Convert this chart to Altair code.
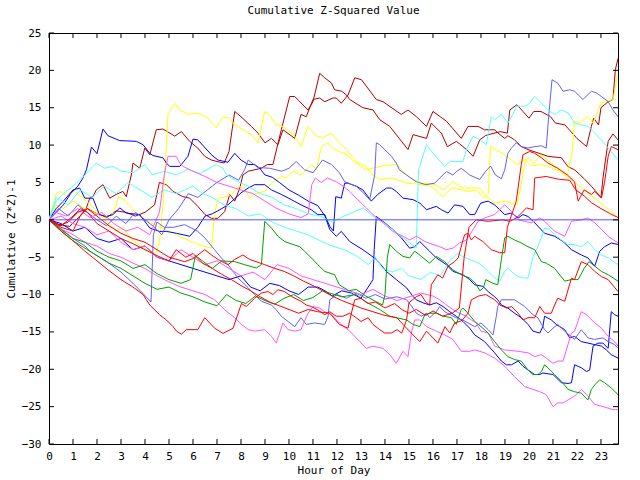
import altair as alt
import pandas as pd

# ---------------- data (hour, cumulative value) ----------------
dark_red_a = [(0,0),(0.4,-0.6),(0.86,-0.9),(1.0,-0.4),(1.28,0.45),(1.56,1.6),(1.7,2.9),(1.83,3.1),(1.97,4.0),(2.25,4.7),(2.39,3.8),(2.53,2.9),(2.8,3.4),(3.08,3.8),(3.22,3.1),(3.43,6.0),(3.5,7.6),(3.78,6.9),(3.99,9.6),(4.2,8.7),(4.47,12.05),(4.75,12.15),(5.24,11.2),(5.52,11.8),(5.86,10.5),(6.2,9.6),(6.49,8.5),(6.77,8.0),(7.0,7.8),(7.3,7.6),(7.5,9.15),(7.74,14.5),(8.0,13.8),(8.43,12.5),(8.71,11.6),(9.0,10.3),(9.27,10.9),(9.54,10.05),(9.75,12.05),(10.24,10.9),(10.5,14.1),(10.72,13.8),(11.0,16.1),(11.28,16.3),(11.49,15.8),(11.83,16.3),(11.97,16.3),(12.18,15.6),(12.46,16.7),(12.74,19.0),(13.02,18.75),(13.64,16.1),(13.92,15.8),(14.68,14.1),(14.96,14.7),(15.31,13.8),(15.73,12.5),(16.0,14.5),(16.56,13.2),(17.18,10.9),(17.46,12.5),(17.88,12.5),(18.15,12.05),(18.57,12.05),(18.71,11.6),(18.99,10.9),(19.12,11.25),(19.4,10.7),(19.68,9.8),(19.96,9.4),(20.79,8.5),(21.35,8.3),(21.63,7.1),(21.9,6.7),(22.3,5.5),(22.6,4.5),(23.0,3.0),(23.1,6.0),(23.3,10.5),(23.5,11.5),(23.71,10.7)]
dark_red_b = [(0,0),(0.4,-0.8),(0.8,-0.3),(1.2,1.0),(1.6,1.5),(2.0,0.8),(2.4,0.3),(2.8,1.2),(3.2,1.0),(3.6,0.5),(4.0,1.0),(4.4,2.0),(4.6,5.0),(4.89,4.7),(5.17,3.8),(5.58,3.1),(5.86,2.9),(6.2,1.8),(6.5,0.7),(6.77,0.2),(7.04,0.2),(7.32,1.1),(7.53,3.4),(7.74,2.5),(7.95,4.25),(8.08,6.0),(8.3,6.5),(8.85,6.9),(9.1,7.4),(9.33,7.4),(9.68,12.05),(10.03,16.5),(10.24,16.5),(10.79,14.7),(11.0,15.8),(11.28,19.6),(11.49,19.0),(11.77,18.3),(11.9,17.4),(12.2,17.2),(12.4,16.7),(12.53,16.1),(13.08,15.0),(13.5,14.7),(13.78,13.4),(14.2,12.5),(14.96,9.4),(15.17,11.4),(15.73,10.9),(15.93,12.95),(16.35,11.6),(16.6,9.8),(16.98,10.5),(17.4,9.4),(17.67,8.5),(17.95,10.7),(18.2,11.3),(18.8,11.8),(19.1,11.6),(19.2,14.7),(19.5,15.4),(19.75,14.5),(20.0,13.6),(20.2,14.5),(20.5,14.5),(20.9,13.8),(21.1,12.95),(21.5,12.7),(22.0,10.9),(22.4,9.8),(22.6,12.5),(22.7,13.6),(22.9,12.7),(23.0,15.0),(23.3,15.8),(23.5,16.1),(23.6,20.1),(23.71,21.6)]
yellow_a = [(0,0),(0.3,3.5),(0.45,3.8),(0.7,3.3),(1.0,4.0),(1.3,3.2),(1.56,2.5),(1.9,1.5),(2.25,0.2),(2.5,-0.5),(2.8,-1.5),(3.1,-1.0),(3.4,-2.5),(3.8,-3.5),(4.2,-4.2),(4.45,-4.5),(4.6,-3.0),(4.75,2.0),(4.96,14.1),(5.24,15.6),(5.45,14.7),(5.79,14.1),(6.2,14.3),(6.63,13.6),(6.97,12.3),(7.25,13.75),(7.53,13.6),(7.74,12.7),(8.43,11.4),(8.71,10.3),(8.99,14.5),(9.2,14.0),(9.47,12.7),(9.75,12.5),(10.24,11.2),(10.5,9.8),(10.79,12.5),(11.14,11.2),(11.4,11.0),(11.77,11.6),(12.1,10.3),(12.4,9.4),(12.8,7.8),(13.2,7.15),(13.5,6.0),(13.78,5.4),(14.3,5.6),(14.9,4.9),(15.3,4.8),(15.9,4.5),(16.4,3.1),(16.8,4.25),(17.2,4.0),(17.5,3.8),(17.8,4.0),(18.15,2.9),(18.3,3.4),(18.4,9.8),(19.0,8.7),(19.5,7.4),(19.96,8.3),(20.2,7.6),(20.5,8.7),(21.0,7.4),(21.5,6.0),(22.0,4.8),(22.5,3.5),(23.0,2.2),(23.4,1.2),(23.71,0.3)]
yellow_b = [(0,0),(0.3,2.0),(0.6,1.5),(1.0,2.5),(1.5,1.5),(2.0,0.8),(2.5,0.0),(2.75,1.5),(2.9,3.1),(3.2,2.5),(3.6,1.0),(4.0,0.0),(4.5,-0.8),(5.0,-1.5),(5.5,-2.3),(6.0,-3.0),(6.4,-3.5),(6.77,-3.8),(6.9,0.7),(7.04,2.9),(7.3,3.0),(7.6,3.4),(7.9,4.5),(8.15,4.25),(8.36,2.9),(8.6,3.5),(8.99,3.8),(9.27,4.9),(9.68,5.8),(9.9,5.6),(10.17,6.5),(10.5,6.0),(10.93,7.4),(11.14,6.7),(11.35,9.8),(11.6,10.3),(11.9,9.4),(12.1,9.15),(12.4,8.7),(12.8,7.6),(13.2,6.7),(13.6,7.0),(14.0,7.3),(14.5,7.4),(15.03,5.6),(15.58,4.9),(16.14,4.7),(16.42,4.0),(16.83,5.1),(17.25,4.25),(17.95,4.25),(18.2,3.2),(18.6,2.2),(19.0,2.5),(19.5,2.0),(19.7,5.1),(19.85,8.0),(20.1,7.2),(20.5,7.4),(20.9,7.0),(21.3,6.5),(21.6,6.0),(21.8,9.0),(21.9,13.2),(22.1,13.0),(22.46,13.8),(22.67,12.95),(23.0,15.6),(23.2,15.8),(23.5,16.1),(23.71,19.5)]
blue_a = [(0,0),(0.3,1.0),(0.6,2.0),(0.9,3.5),(1.2,4.5),(1.4,5.5),(1.56,6.7),(1.77,9.74),(2.0,8.85),(2.25,12.15),(2.46,11.25),(2.95,10.6),(3.64,10.5),(3.92,10.05),(4.2,8.9),(4.33,8.6),(4.75,8.3),(4.89,7.6),(5.03,7.15),(5.45,7.15),(5.79,8.5),(6.0,10.8),(6.2,10.7),(6.77,8.7),(7.04,8.0),(7.46,7.7),(7.74,8.9),(8.0,8.0),(8.3,7.4),(8.57,7.4),(8.78,6.9),(9.0,6.0),(9.3,5.7),(9.6,5.0),(10.0,4.0),(10.4,3.3),(10.8,2.5),(11.2,1.9),(11.5,0.5),(11.7,-1.3),(11.97,-2.2),(12.18,-1.55),(12.53,-2.9),(13.08,-4.0),(13.64,-5.3),(14.06,-6.9),(14.47,-8.0),(14.9,-9.1),(15.17,-10.25),(15.3,-10.7),(15.58,-11.1),(15.86,-11.4),(16.14,-11.1),(16.42,-11.6),(16.7,-12.3),(16.97,-12.9),(17.25,-13.6),(17.53,-14.5),(17.74,-15.4),(18.15,-16.3),(18.57,-17.8),(18.85,-18.9),(19.06,-19.4),(19.27,-19.4),(19.55,-18.9),(19.75,-19.6),(19.96,-20.1),(20.24,-20.7),(20.45,-20.7),(20.58,-20.5),(21.0,-20.7),(21.35,-21.8),(21.63,-21.9),(21.77,-21.8),(21.9,-19.4),(22.18,-19.8),(22.4,-20.3),(22.53,-20.1),(22.67,-16.9),(22.87,-16.5),(23.08,-16.5),(23.3,-17.2),(23.43,-12.3),(23.57,-12.7),(23.71,-12.9)]
blue_b = [(0,0),(0.5,-0.5),(1.0,-1.5),(1.5,-1.0),(2.0,-2.5),(2.5,-3.0),(3.0,-2.5),(3.5,-4.0),(4.0,-3.5),(4.5,-5.0),(5.0,-5.5),(5.5,-6.0),(6.0,-6.5),(6.5,-7.0),(7.0,-7.5),(7.5,-8.0),(8.0,-7.5),(8.4,-9.0),(8.8,-9.5),(9.2,-8.5),(9.6,-8.8),(10.0,-9.5),(10.4,-10.0),(10.8,-9.0),(11.2,-9.0),(11.5,-9.5),(11.8,-10.2),(12.2,-9.5),(12.6,-9.8),(13.0,-10.5),(13.3,-9.0),(13.5,-8.0),(13.55,-4.0),(13.64,0.45),(13.99,-0.4),(14.33,-1.3),(14.68,-2.4),(15.03,-3.8),(15.24,-3.6),(15.45,-2.9),(15.86,-4.2),(16.14,-5.1),(16.56,-6.0),(16.83,-6.9),(17.25,-7.35),(17.53,-8.0),(17.74,-8.7),(18.08,-8.9),(18.3,-9.6),(18.57,-10.3),(18.7,-10.7),(18.85,-11.4),(19.12,-11.8),(19.4,-12.5),(19.68,-13.1),(19.96,-14.0),(20.17,-14.9),(20.45,-15.15),(20.58,-14.3),(20.65,-12.9),(20.93,-13.4),(21.14,-14.0),(21.28,-14.3),(21.49,-14.7),(21.7,-15.8),(21.9,-15.6),(22.18,-16.3),(22.46,-16.5),(22.74,-16.7),(23.02,-16.9),(23.22,-17.4),(23.43,-18.05),(23.71,-18.5)]
blue_c = [(0,0),(0.3,1.5),(0.6,2.5),(1.0,4.0),(1.28,4.25),(1.49,2.9),(1.83,2.9),(2.1,0.7),(2.39,0.45),(2.67,0.7),(2.95,1.6),(3.22,0.9),(3.78,0.7),(4.2,-1.1),(4.61,-1.55),(4.89,-1.55),(5.31,-1.8),(5.86,-2.2),(6.2,-1.0),(6.5,0.5),(6.8,0.8),(7.2,1.5),(7.46,2.0),(8.0,3.6),(8.3,4.25),(8.57,4.7),(8.99,4.7),(9.27,4.0),(9.68,3.4),(10.1,2.7),(10.5,2.0),(10.93,1.35),(11.2,0.7),(11.49,0.7),(11.7,-0.9),(11.85,-1.5),(11.95,3.1),(12.18,2.9),(12.32,4.9),(12.46,4.9),(12.8,4.5),(13.08,4.0),(13.43,2.5),(13.7,3.4),(14.06,4.25),(14.27,4.25),(14.47,3.8),(14.75,2.9),(15.17,2.7),(15.45,2.25),(15.73,1.35),(16.14,1.8),(16.35,1.35),(16.63,0.9),(16.9,2.0),(17.25,1.8),(17.53,0.7),(17.74,0.7),(17.95,2.0),(18.0,2.25),(18.3,2.5),(18.57,2.0),(18.78,1.35),(18.99,0.7),(19.27,0.9),(19.55,0.25),(19.75,0.7),(19.96,0.45),(20.24,-0.4),(20.65,-1.8),(21.07,-2.2),(21.42,-2.9),(21.77,-4.0),(22.18,-4.7),(22.46,-5.1),(22.74,-6.2),(22.95,-4.2),(23.15,-3.6),(23.43,-3.1),(23.71,-3.3)]
light_blue_a = [(0,0),(0.4,1.5),(0.8,0.5),(1.2,2.0),(1.6,1.0),(2.0,0.0),(2.4,-0.8),(2.8,0.5),(3.2,-0.5),(3.6,1.0),(4.0,0.0),(4.4,-1.0),(4.7,-2.0),(5.0,0.0),(5.4,1.5),(5.8,3.5),(6.2,3.0),(6.6,4.0),(7.0,5.0),(7.5,6.0),(7.9,5.3),(8.15,6.7),(8.3,8.0),(8.7,7.0),(9.2,6.9),(9.7,6.5),(10.0,6.9),(10.3,7.8),(10.65,6.7),(11.0,6.3),(11.4,8.0),(11.77,7.4),(12.1,6.3),(12.32,5.1),(12.8,4.5),(13.1,3.6),(13.36,2.7),(13.57,6.0),(13.64,10.3),(13.78,10.05),(13.99,9.4),(14.27,8.5),(14.47,7.6),(14.6,6.7),(14.9,6.0),(15.3,5.1),(15.7,4.7),(16.07,4.9),(16.28,5.6),(16.56,6.45),(16.83,6.0),(16.97,6.45),(17.18,6.9),(17.53,6.0),(17.8,5.6),(17.95,5.4),(18.2,6.5),(18.4,7.2),(18.6,6.0),(18.85,5.5),(18.99,6.7),(19.12,8.9),(19.27,9.6),(19.47,10.3),(19.68,9.8),(19.96,9.6),(20.24,9.8),(20.52,9.9),(20.72,9.6),(20.82,13.8),(20.96,18.75),(21.2,18.3),(21.42,17.2),(21.7,17.4),(21.9,17.2),(22.25,16.1),(22.6,17.2),(22.8,17.0),(23.02,16.5),(23.3,15.8),(23.5,14.7),(23.71,13.8)]
light_blue_b = [(0,0),(0.5,-1.2),(1.0,-2.5),(1.5,-3.5),(1.7,-4.2),(2.0,-4.8),(2.5,-5.8),(3.0,-7.0),(3.5,-8.5),(3.9,-9.8),(4.25,-11.0),(4.35,-2.0),(4.5,-0.3),(4.8,-1.0),(5.2,-1.0),(5.65,-0.65),(5.93,-1.1),(6.2,-1.55),(6.49,-2.4),(6.9,-4.0),(7.18,-5.1),(7.46,-6.0),(7.88,-7.8),(8.3,-9.1),(8.57,-10.0),(8.85,-10.9),(9.27,-11.4),(9.47,-12.05),(9.68,-12.9),(9.96,-13.6),(10.24,-14.3),(10.5,-13.1),(10.72,-14.0),(11.07,-13.8),(11.49,-14.0),(11.63,-12.9),(11.7,-10.7),(12.0,-10.0),(12.4,-10.5),(12.8,-9.8),(13.2,-10.5),(13.6,-10.0),(14.0,-10.6),(14.5,-10.3),(14.9,-10.7),(15.1,-11.5),(15.31,-12.5),(15.52,-12.9),(15.73,-12.5),(15.86,-13.1),(16.14,-12.3),(16.28,-11.6),(16.49,-12.3),(16.9,-13.0),(17.3,-13.5),(17.74,-14.3),(18.0,-13.8),(18.3,-14.7),(18.5,-15.4),(18.64,-12.9),(18.7,-11.6),(18.85,-10.7),(19.4,-10.7),(19.82,-11.6),(20.17,-12.7),(20.37,-13.1),(20.65,-14.7),(20.79,-15.15),(21.0,-14.5),(21.2,-14.0),(21.49,-14.9),(21.9,-16.0),(22.18,-14.7),(22.46,-15.8),(22.74,-16.0),(23.08,-15.8),(23.3,-16.3),(23.57,-16.7),(23.71,-17.2)]
cyan_a = [(0,0),(0.3,2.5),(0.6,3.5),(1.0,4.5),(1.5,6.0),(1.97,7.6),(2.3,6.9),(2.67,7.15),(3.0,6.5),(3.5,6.3),(4.0,7.4),(4.3,6.0),(4.8,6.5),(5.3,6.0),(5.8,6.8),(6.3,6.2),(6.97,7.4),(7.25,6.9),(7.4,6.0),(7.6,5.6),(7.88,5.1),(8.3,4.5),(8.8,3.5),(9.3,3.0),(9.8,2.0),(10.3,1.5),(10.8,0.8),(11.3,0.5),(11.8,-0.3),(12.3,0.5),(12.8,1.2),(13.1,1.6),(13.5,0.5),(14.0,-0.5),(14.5,-1.8),(15.0,-3.0),(15.3,-3.8),(15.4,6.7),(15.73,10.05),(16.0,8.9),(16.49,7.15),(16.7,7.8),(17.25,7.8),(17.39,9.4),(17.67,11.2),(17.95,10.7),(18.22,10.05),(18.43,13.8),(18.57,13.4),(18.85,14.1),(19.12,12.95),(19.33,14.1),(19.47,15.2),(19.82,15.2),(19.96,15.4),(20.24,16.5),(20.52,15.6),(20.79,14.7),(21.07,14.1),(21.35,14.7),(21.63,14.3),(21.9,12.95),(22.18,12.7),(22.46,12.5),(22.74,11.6),(23.02,10.7),(23.3,9.6),(23.71,8.0)]
cyan_b = [(0,0),(0.3,3.0),(0.8,2.0),(1.3,4.0),(1.8,3.0),(2.3,4.5),(2.8,3.5),(3.3,5.0),(3.8,4.0),(4.3,3.0),(4.8,4.0),(5.3,3.5),(5.65,4.0),(6.0,4.5),(6.4,3.5),(6.8,3.0),(7.3,2.0),(7.8,1.5),(8.3,0.5),(8.8,0.8),(9.3,-0.3),(9.8,-1.0),(10.3,-1.5),(10.8,-2.0),(11.3,-2.8),(11.8,-3.5),(12.3,-4.0),(12.8,-4.8),(13.3,-6.0),(13.6,-5.0),(13.9,-6.5),(14.3,-7.0),(14.7,-6.5),(15.0,-7.5),(15.5,-8.0),(15.9,-7.0),(16.3,-7.5),(16.7,-5.5),(17.0,-4.5),(17.3,-5.0),(17.74,-5.6),(18.0,-6.0),(18.3,-6.9),(18.57,-7.8),(18.78,-8.2),(18.99,-6.9),(19.12,-6.45),(19.33,-7.1),(19.55,-7.6),(19.82,-7.8),(19.96,-7.8),(20.17,-4.9),(20.37,-3.6),(20.65,-1.1),(20.86,-1.3),(21.07,-2.0),(21.35,-2.7),(21.63,-3.3),(21.9,-3.3),(22.18,-3.6),(22.46,-2.9),(22.74,-4.0),(23.02,-4.7),(23.3,-5.1),(23.71,-6.0)]
magenta_a = [(0,0),(0.3,1.0),(0.7,0.5),(1.2,1.5),(1.7,0.3),(2.2,1.0),(2.7,-0.5),(3.2,-1.5),(3.7,-1.0),(4.2,-2.0),(4.6,1.0),(4.8,6.0),(4.96,8.5),(5.3,8.5),(5.45,7.6),(5.58,7.15),(6.0,6.5),(6.5,5.8),(7.0,5.0),(7.5,4.5),(8.0,4.0),(8.5,3.5),(9.0,2.5),(9.5,1.5),(10.0,0.8),(10.5,0.3),(10.8,0.8),(10.95,4.7),(11.1,5.6),(11.35,5.0),(11.6,5.6),(11.97,5.1),(12.25,4.5),(12.53,3.8),(12.8,2.9),(13.22,1.6),(13.5,0.7),(13.92,-0.4),(14.33,-1.55),(14.75,-2.2),(15.03,-2.7),(15.31,-2.2),(15.66,-2.9),(16.0,-3.3),(16.28,-3.6),(16.56,-4.0),(16.83,-3.8),(17.1,-3.1),(17.39,-2.7),(17.67,-1.3),(17.88,-0.2),(18.15,0.25),(18.57,0.7),(18.99,2.0),(19.27,1.1),(19.55,0.0),(19.82,-0.2),(20.1,-0.4),(20.45,0.25),(20.65,-0.2),(21.07,-1.55),(21.49,-2.2),(21.77,-0.2),(22.18,0.0),(22.46,0.25),(22.74,-0.4),(23.02,-1.3),(23.3,-2.2),(23.71,-3.1)]
magenta_b = [(0,0),(0.5,0.5),(1.0,-0.5),(1.5,-1.0),(2.0,-2.0),(2.5,-1.5),(3.0,-3.0),(3.5,-4.0),(4.0,-3.5),(4.5,-5.0),(5.0,-5.5),(5.5,-4.0),(6.0,-5.0),(6.5,-6.0),(7.0,-5.5),(7.5,-6.5),(8.0,-7.5),(8.5,-7.0),(9.0,-8.0),(9.5,-6.0),(10.0,-6.5),(10.5,-7.5),(11.0,-8.0),(11.5,-8.5),(12.0,-9.0),(12.5,-9.5),(13.0,-10.0),(13.5,-9.3),(14.0,-10.2),(14.5,-10.8),(15.0,-10.3),(15.5,-9.8),(16.0,-10.2),(16.28,-10.7),(16.56,-11.4),(16.83,-12.0),(17.1,-12.5),(17.39,-12.9),(17.6,-13.4),(17.8,-13.8),(18.0,-14.9),(18.3,-15.15),(18.57,-16.9),(18.99,-17.4),(19.55,-17.6),(19.96,-17.8),(20.24,-18.3),(20.52,-18.05),(20.72,-18.5),(21.0,-19.2),(21.2,-18.9),(21.42,-18.9),(21.56,-17.4),(21.77,-15.15),(21.9,-14.9),(22.18,-12.3),(22.4,-12.7),(22.74,-13.8),(23.02,-14.5),(23.3,-15.6),(23.57,-16.3),(23.71,-16.9)]
magenta_c = [(0,0),(0.5,-1.2),(1.0,-2.0),(1.5,-3.0),(2.0,-3.5),(2.5,-4.5),(3.0,-5.0),(3.5,-5.8),(4.0,-6.5),(4.5,-7.5),(5.0,-8.3),(5.5,-9.0),(6.0,-9.5),(6.5,-10.0),(6.9,-10.7),(7.32,-12.05),(7.74,-13.1),(7.95,-13.8),(8.3,-14.7),(8.57,-14.9),(8.99,-14.7),(9.27,-15.6),(9.47,-16.5),(9.75,-13.8),(9.96,-14.7),(10.24,-14.9),(10.5,-14.7),(10.79,-12.5),(11.0,-11.6),(11.28,-11.8),(11.49,-12.3),(11.77,-12.7),(12.1,-13.8),(12.53,-14.9),(12.95,-16.3),(13.22,-17.2),(13.5,-16.9),(13.92,-17.2),(14.2,-18.05),(14.47,-19.2),(14.75,-17.6),(14.96,-18.3),(15.1,-15.15),(15.24,-13.4),(15.45,-13.4),(15.73,-14.3),(16.14,-14.9),(16.49,-15.4),(16.83,-16.0),(17.18,-17.6),(17.53,-17.6),(17.74,-17.4),(18.15,-17.8),(18.57,-18.5),(18.99,-19.6),(19.4,-21.0),(19.82,-22.3),(20.17,-22.7),(20.45,-23.0),(20.72,-23.4),(21.0,-25.0),(21.2,-24.5),(21.42,-24.5),(21.63,-24.1),(21.9,-23.6),(22.18,-22.7),(22.46,-23.6),(22.74,-24.7),(23.08,-25.0),(23.3,-25.2),(23.5,-25.4),(23.71,-25.4)]
green_a = [(0,0),(0.5,-1.3),(1.0,-2.5),(1.5,-3.0),(2.0,-4.2),(2.5,-5.0),(3.0,-5.5),(3.5,-6.5),(4.0,-6.0),(4.5,-7.2),(5.0,-8.0),(5.5,-8.5),(5.9,-8.0),(6.1,-4.8),(6.4,-5.5),(6.8,-6.5),(7.2,-5.5),(7.74,-5.6),(8.15,-6.0),(8.64,-6.45),(8.85,-6.0),(8.99,-0.2),(9.27,-1.1),(9.54,-2.2),(9.82,-2.9),(10.17,-3.3),(10.45,-3.6),(10.65,-4.2),(10.93,-5.1),(11.2,-6.0),(11.49,-6.9),(11.9,-7.35),(12.1,-8.7),(12.5,-9.5),(12.8,-9.3),(13.2,-10.2),(13.6,-10.9),(13.9,-11.4),(14.0,-10.0),(14.1,-5.0),(14.2,-3.3),(14.47,-4.2),(14.75,-4.9),(15.03,-5.1),(15.24,-4.2),(15.52,-4.9),(15.86,-5.8),(16.14,-4.9),(16.49,-5.6),(16.83,-6.7),(17.18,-7.35),(17.53,-7.8),(17.8,-8.6),(17.95,-9.5),(18.1,-9.1),(18.2,-8.0),(18.5,-8.5),(18.7,-8.7),(18.85,-5.3),(18.99,-2.4),(19.12,-2.2),(19.4,-2.7),(19.68,-3.1),(19.96,-3.6),(20.24,-4.0),(20.52,-5.6),(20.72,-5.8),(21.07,-6.5),(21.49,-8.2),(21.77,-8.0),(22.05,-8.0),(22.3,-6.5),(22.5,-5.6),(22.74,-6.2),(23.02,-6.9),(23.3,-7.35),(23.71,-8.2)]
green_b = [(0,0),(0.5,-1.5),(1.0,-2.8),(1.5,-3.8),(2.0,-4.8),(2.5,-5.8),(3.0,-6.5),(3.5,-7.5),(4.0,-8.5),(4.5,-9.3),(5.0,-9.0),(5.5,-9.8),(6.0,-10.3),(6.5,-11.0),(7.0,-11.5),(7.4,-10.0),(7.8,-10.8),(8.2,-11.2),(8.6,-10.2),(9.0,-10.8),(9.4,-11.3),(9.8,-10.5),(10.2,-10.0),(10.6,-10.8),(11.0,-10.4),(11.4,-9.5),(11.7,-9.8),(12.2,-10.3),(12.8,-10.0),(13.2,-11.0),(13.5,-11.5),(13.78,-12.0),(14.2,-12.9),(14.47,-13.1),(14.9,-13.4),(15.17,-14.0),(15.45,-14.3),(15.66,-12.7),(15.86,-12.5),(16.14,-12.5),(16.42,-12.9),(16.77,-13.1),(16.97,-14.0),(17.18,-12.0),(17.25,-11.8),(17.46,-12.5),(17.74,-13.6),(18.0,-14.3),(18.3,-15.15),(18.57,-16.3),(18.85,-17.4),(19.12,-18.3),(19.4,-18.7),(19.68,-18.9),(19.96,-20.1),(20.17,-20.7),(20.37,-20.7),(20.52,-20.3),(20.65,-19.4),(20.79,-19.8),(21.07,-20.7),(21.35,-21.6),(21.63,-22.7),(21.9,-23.0),(22.18,-23.2),(22.46,-24.1),(22.6,-22.7),(22.74,-22.1),(22.95,-21.4),(23.15,-21.8),(23.43,-22.5),(23.71,-23.4)]
red_a = [(0,0),(0.5,-1.5),(1.0,-2.8),(1.5,-4.2),(2.0,-5.5),(2.5,-6.8),(3.0,-8.0),(3.5,-9.0),(3.92,-10.0),(4.06,-10.7),(4.2,-11.4),(4.61,-12.7),(4.89,-13.4),(5.17,-14.3),(5.31,-14.9),(5.52,-15.3),(5.72,-14.7),(6.2,-14.7),(6.49,-13.1),(6.9,-14.5),(7.25,-15.2),(7.67,-14.5),(8.02,-11.2),(8.22,-11.6),(8.57,-10.5),(8.85,-9.8),(9.13,-9.6),(9.33,-10.0),(9.54,-9.35),(9.82,-9.6),(10.1,-10.25),(10.5,-10.9),(10.72,-11.4),(10.93,-11.6),(11.2,-12.05),(11.49,-12.7),(11.7,-12.3),(11.97,-12.9),(12.25,-12.9),(12.53,-12.5),(12.8,-13.1),(13.0,-13.6),(13.3,-13.1),(13.5,-14.0),(13.78,-14.7),(13.99,-15.15),(14.27,-15.15),(14.5,-14.7),(14.7,-15.15),(14.9,-13.4),(15.0,-11.1),(15.3,-10.3),(15.5,-10.0),(15.7,-11.0),(15.86,-11.4),(15.93,-8.7),(16.2,-7.35),(16.4,-7.8),(16.63,-6.2),(16.9,-5.6),(17.05,-5.1),(17.25,-2.7),(17.32,-2.0),(17.46,-1.8),(17.6,-2.7),(17.74,-2.2),(18.08,-2.9),(18.43,-4.0),(18.78,-4.4),(18.99,-4.4),(19.1,-1.0),(19.47,2.5),(19.68,7.4),(19.75,8.7),(20.03,9.15),(20.24,8.9),(20.52,8.3),(20.79,7.6),(21.2,6.9),(21.6,6.0),(21.9,5.1),(22.05,2.5),(22.3,4.0),(22.6,3.4),(22.74,3.8),(23.02,2.9),(23.15,5.0),(23.3,8.5),(23.43,9.8),(23.71,9.4)]
red_b = [(0,0),(0.5,-0.8),(1.0,0.5),(1.3,1.5),(1.6,1.0),(2.0,-0.5),(2.5,-1.5),(3.0,-2.5),(3.5,-3.2),(4.0,-4.0),(4.5,-4.8),(5.0,-5.5),(5.3,-4.0),(5.7,-5.0),(6.0,-4.5),(6.4,-5.8),(6.8,-6.5),(7.2,-7.3),(7.6,-8.0),(8.0,-8.8),(8.4,-9.5),(8.8,-10.3),(9.2,-11.0),(9.6,-11.5),(10.0,-12.0),(10.4,-12.5),(10.8,-12.0),(11.2,-12.3),(11.7,-12.5),(12.1,-14.0),(12.46,-14.5),(12.6,-12.5),(12.74,-10.7),(13.0,-10.5),(13.3,-11.2),(13.6,-11.0),(14.0,-11.8),(14.4,-11.2),(14.7,-12.0),(15.0,-12.5),(15.3,-12.0),(15.7,-12.8),(16.0,-12.2),(16.4,-12.9),(16.8,-12.5),(17.1,-11.8),(17.3,-5.0),(17.5,-1.0),(17.8,0.0),(18.3,-0.2),(18.9,0.0),(19.2,-0.2),(19.5,0.3),(19.9,1.6),(20.17,1.35),(20.24,5.6),(20.72,5.8),(21.28,5.4),(21.7,5.3),(21.95,4.0),(22.3,3.2),(22.6,2.3),(23.0,1.5),(23.4,0.8),(23.71,0.3)]
red_c = [(0,0),(0.5,-1.0),(1.0,-1.5),(1.3,0.5),(1.6,1.5),(2.0,0.5),(2.5,-0.8),(3.0,-1.8),(3.5,-2.5),(4.0,-3.0),(4.5,-4.0),(5.0,-5.0),(5.65,-5.6),(6.0,-5.2),(6.49,-4.0),(6.77,-4.7),(7.04,-5.3),(7.46,-6.0),(7.74,-5.3),(8.08,-4.7),(8.36,-5.3),(8.99,-6.0),(9.4,-6.5),(9.8,-6.9),(10.2,-7.5),(10.6,-8.2),(11.0,-8.8),(11.4,-9.5),(11.8,-10.2),(12.2,-10.8),(12.6,-11.3),(13.0,-11.8),(13.5,-12.3),(14.0,-12.8),(14.5,-13.1),(14.75,-14.0),(15.17,-15.4),(15.45,-16.3),(15.73,-14.9),(16.0,-15.8),(16.2,-16.5),(16.5,-14.3),(16.7,-15.15),(16.9,-13.8),(17.2,-13.5),(17.46,-12.5),(17.6,-10.7),(17.9,-10.2),(18.2,-10.0),(18.57,-10.7),(18.78,-11.4),(19.06,-11.8),(19.27,-11.6),(19.55,-12.5),(19.75,-13.4),(19.96,-13.1),(20.24,-13.1),(20.45,-11.6),(20.65,-12.5),(20.93,-12.5),(21.07,-11.4),(21.2,-10.5),(21.49,-10.9),(21.77,-7.8),(21.9,-8.0),(22.18,-5.6),(22.46,-6.0),(22.74,-6.9),(23.02,-7.6),(23.3,-8.0),(23.71,-9.6)]

hour_ticks = list(range(24))
value_ticks = list(range(-30, 26, 5))
zero_level = [0]

series = {
    "dark_red_a": dark_red_a, "dark_red_b": dark_red_b,
    "yellow_a": yellow_a, "yellow_b": yellow_b,
    "blue_a": blue_a, "blue_b": blue_b, "blue_c": blue_c,
    "light_blue_a": light_blue_a, "light_blue_b": light_blue_b,
    "cyan_a": cyan_a, "cyan_b": cyan_b,
    "magenta_a": magenta_a, "magenta_b": magenta_b, "magenta_c": magenta_c,
    "green_a": green_a, "green_b": green_b,
    "red_a": red_a, "red_b": red_b, "red_c": red_c,
}
colors = {
    "dark_red_a": "#b00000", "dark_red_b": "#b00000",
    "yellow_a": "#ffff00", "yellow_b": "#ffff00",
    "blue_a": "#0000ff", "blue_b": "#0000ff", "blue_c": "#0000ff",
    "light_blue_a": "#6060ff", "light_blue_b": "#6060ff",
    "cyan_a": "#55ffff", "cyan_b": "#55ffff",
    "magenta_a": "#ff55ff", "magenta_b": "#ff55ff", "magenta_c": "#ff55ff",
    "green_a": "#00a000", "green_b": "#00a000",
    "red_a": "#ff0000", "red_b": "#ff0000", "red_c": "#ff0000",
}

rows = []
for name, pts in series.items():
    for i, (h, v) in enumerate(pts):
        rows.append({"series": name, "hour": h, "value": v, "idx": i})
df = pd.DataFrame(rows)

W, H = 569, 411
FONT = "DejaVu Sans Mono"
xs = alt.Scale(domain=[0, 23.71], nice=False, zero=False)
ys = alt.Scale(domain=[-30, 25], nice=False, zero=False)

x_axis = alt.Axis(values=hour_ticks, format="d", ticks=False, domain=False, grid=False,
                  labelOverlap=False, labelFlush=False,
                  labelPadding=6, labelFontSize=11, labelFont=FONT, labelColor="black",
                  title="Hour of Day", titleFont=FONT, titleFontSize=11,
                  titleFontWeight="normal", titlePadding=3, titleColor="black")
y_axis = alt.Axis(values=value_ticks, format="d", ticks=False, domain=False, grid=False,
                  labelOverlap=False, labelFlush=False, labelBaseline="middle",
                  labelPadding=8, labelFontSize=11, labelFont=FONT, labelColor="black",
                  title="Cumulative (Z*Z)-1", titleFont=FONT, titleFontSize=11,
                  titleFontWeight="normal", titlePadding=5, titleColor="black")

lines = alt.Chart(df).mark_line(strokeWidth=1, clip=True).encode(
    x=alt.X("hour:Q", scale=xs, axis=x_axis),
    y=alt.Y("value:Q", scale=ys, axis=y_axis),
    color=alt.Color("series:N", scale=alt.Scale(domain=list(colors.keys()), range=list(colors.values())),
                    legend=None),
    detail="series:N",
    order="idx:Q",
)

zero = alt.Chart(pd.DataFrame({"value": zero_level})).mark_rule(color="#5050ff", strokeWidth=1).encode(
    y=alt.Y("value:Q", scale=ys, axis=y_axis)
)

xt = pd.DataFrame({"hour": hour_ticks})
yt = pd.DataFrame({"value": value_ticks})
tick_bottom = alt.Chart(xt).mark_rule(color="black").encode(
    x=alt.X("hour:Q", scale=xs, axis=x_axis), y=alt.value(H), y2=alt.value(H - 5))
tick_top = alt.Chart(xt).mark_rule(color="black").encode(
    x=alt.X("hour:Q", scale=xs, axis=x_axis), y=alt.value(0), y2=alt.value(5))
tick_left = alt.Chart(yt).mark_rule(color="black").encode(
    y=alt.Y("value:Q", scale=ys, axis=y_axis), x=alt.value(0), x2=alt.value(5))
tick_right = alt.Chart(yt).mark_rule(color="black").encode(
    y=alt.Y("value:Q", scale=ys, axis=y_axis), x=alt.value(W), x2=alt.value(W - 5))

chart = alt.layer(lines, zero, tick_bottom, tick_top, tick_left, tick_right).properties(
    width=W, height=H,
    title=alt.TitleParams("Cumulative Z-Squared Value", font=FONT, fontSize=11,
                          fontWeight="normal", offset=11, color="black"),
    padding={"left": 49, "top": 33, "right": 22, "bottom": 36},
    autosize="none",
    background="white",
).configure_view(stroke="black", strokeWidth=1)

chart.save("out.html", embed_options={"renderer": "svg", "actions": False})
